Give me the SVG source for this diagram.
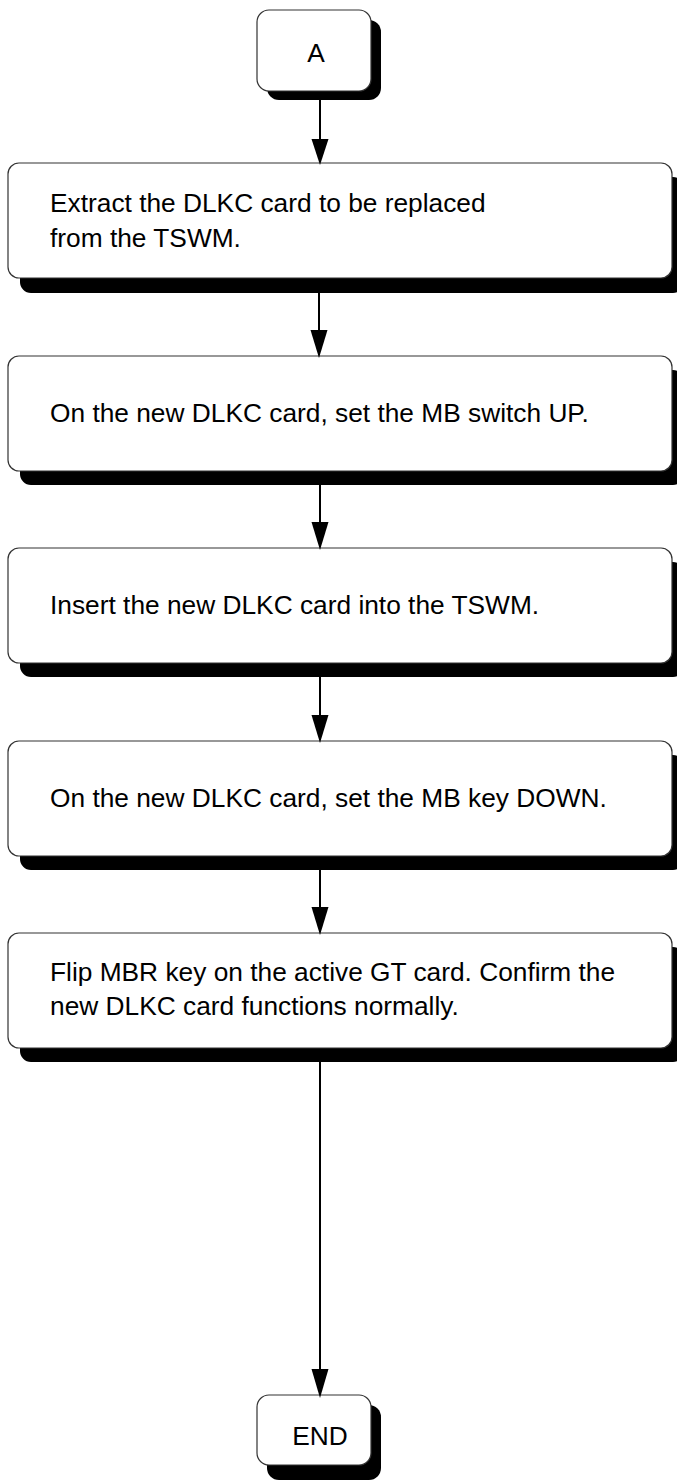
<svg xmlns="http://www.w3.org/2000/svg" width="677" height="1482" viewBox="0 0 677 1482">
<style>
.box{fill:#fff;stroke:#333;stroke-width:1.2}
.sh{fill:#000}
.t{font-family:"Liberation Sans",Arial,sans-serif;font-size:26.3px;fill:#000}
.c{stroke:#000;stroke-width:2;fill:none}
.ah{fill:#000}
</style>
<rect width="677" height="1482" fill="#fff"/>
<g id="A">
<rect class="sh" x="267" y="20" width="114" height="80" rx="12"/>
<rect class="box" x="257" y="10" width="114" height="81" rx="12"/>
<text class="t" x="316" y="62" text-anchor="middle">A</text>
</g>
<g id="step1">
<rect class="sh" x="20" y="177" width="664" height="116" rx="11"/>
<rect class="box" x="8" y="163" width="664" height="115" rx="11"/>
<text class="t" x="50" y="212">Extract the DLKC card to be replaced</text>
<text class="t" x="50" y="247">from the TSWM.</text>
</g>
<g id="step2">
<rect class="sh" x="20" y="370" width="664" height="115" rx="11"/>
<rect class="box" x="8" y="356" width="664" height="115" rx="11"/>
<text class="t" x="50" y="422">On the new DLKC card, set the MB switch UP.</text>
</g>
<g id="step3">
<rect class="sh" x="20" y="562" width="664" height="115" rx="11"/>
<rect class="box" x="8" y="548" width="664" height="115" rx="11"/>
<text class="t" x="50" y="614">Insert the new DLKC card into the TSWM.</text>
</g>
<g id="step4">
<rect class="sh" x="20" y="755" width="664" height="115" rx="11"/>
<rect class="box" x="8" y="741" width="664" height="115" rx="11"/>
<text class="t" x="50" y="807">On the new DLKC card, set the MB key DOWN.</text>
</g>
<g id="step5">
<rect class="sh" x="20" y="947" width="664" height="115" rx="11"/>
<rect class="box" x="8" y="933" width="664" height="115" rx="11"/>
<text class="t" x="50" y="981">Flip MBR key on the active GT card. Confirm the</text>
<text class="t" x="50" y="1015">new DLKC card functions normally.</text>
</g>
<g id="END">
<rect class="sh" x="267" y="1405" width="114" height="75" rx="12"/>
<rect class="box" x="257" y="1395" width="114" height="70" rx="12"/>
<text class="t" x="320" y="1445" text-anchor="middle">END</text>
</g>
<g id="connectors">
<line class="c" x1="320" y1="100" x2="320" y2="140"/>
<polygon class="ah" points="311.5,139 328.5,139 320,165"/>
<line class="c" x1="319" y1="293" x2="319" y2="332"/>
<polygon class="ah" points="310.5,330 327.5,330 319,358"/>
<line class="c" x1="320" y1="485" x2="320" y2="524"/>
<polygon class="ah" points="311.5,522 328.5,522 320,550"/>
<line class="c" x1="320" y1="677" x2="320" y2="717"/>
<polygon class="ah" points="311.5,715 328.5,715 320,743"/>
<line class="c" x1="320" y1="870" x2="320" y2="909"/>
<polygon class="ah" points="311.5,907 328.5,907 320,935"/>
<line class="c" x1="320" y1="1062" x2="320" y2="1372"/>
<polygon class="ah" points="311.5,1369 328.5,1369 320,1398"/>
</g>
</svg>
